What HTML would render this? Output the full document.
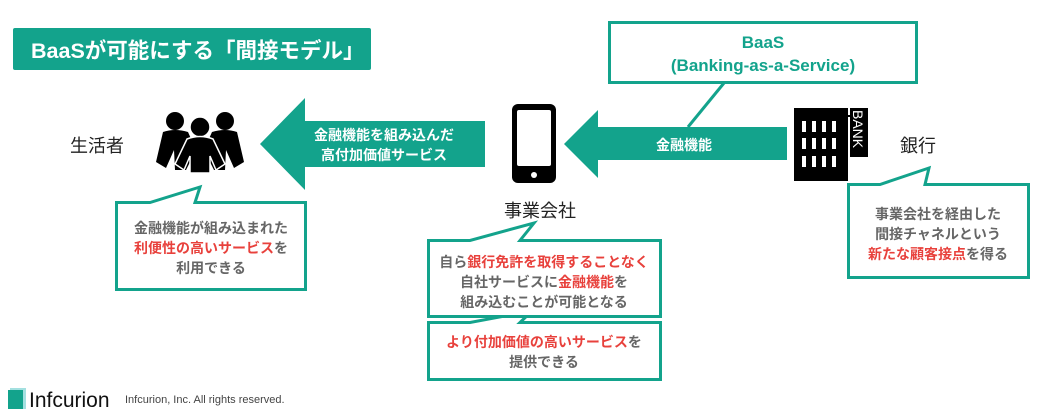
<!DOCTYPE html>
<html><head><meta charset="utf-8"><style>
html,body{margin:0;padding:0;background:#fff;}
svg{display:block;}
text{font-family:"Liberation Sans","Noto Sans CJK JP",sans-serif;}
.w{fill:#fff;font-weight:bold;font-size:14px;}
.g{fill:#666;font-weight:bold;font-size:14px;}
.r{fill:#e8413c;}
.k{fill:#222;font-size:18px;}
</style></head><body>
<svg width="1039" height="414" viewBox="0 0 1039 414" xmlns="http://www.w3.org/2000/svg">
<!-- title -->
<rect x="13" y="28" width="358" height="42" rx="2" fill="#13a38c"/>
<text x="31" y="58" fill="#fff" font-weight="bold" font-size="21.5">BaaSが可能にする「間接モデル」</text>

<!-- BaaS box -->
<line x1="724" y1="83" x2="688" y2="127" stroke="#13a38c" stroke-width="3"/>
<rect x="609.5" y="22.5" width="307" height="60" fill="#fff" stroke="#13a38c" stroke-width="3"/>
<text x="763" y="48" text-anchor="middle" fill="#13a38c" font-weight="bold" font-size="17">BaaS</text>
<text x="763" y="71" text-anchor="middle" fill="#13a38c" font-weight="bold" font-size="17">(Banking-as-a-Service)</text>

<!-- left arrow -->
<polygon points="260,144 305,98 305,121 485,121 485,167 305,167 305,190" fill="#13a38c"/>
<text x="384" y="140" text-anchor="middle" class="w">金融機能を組み込んだ</text>
<text x="384" y="160" text-anchor="middle" class="w">高付加価値サービス</text>

<!-- right arrow -->
<polygon points="564,144 598,110 598,127 787,127 787,160 598,160 598,178" fill="#13a38c"/>
<text x="684" y="150" text-anchor="middle" class="w" font-size="16">金融機能</text>

<!-- people -->
<text x="70" y="152" class="k">生活者</text>
<g fill="#000">
<circle cx="175" cy="121" r="9"/><circle cx="225" cy="121" r="9"/>
<path d="M163,132 Q175,128 188,132 L196,150 L186,170 L175,170 L174,150 L166,168 L156,162 Z"/>
<path d="M237,132 Q225,128 212,132 L204,150 L214,170 L225,170 L226,150 L234,168 L244,162 Z"/>
<circle cx="200" cy="127" r="10" stroke="#fff" stroke-width="1.5"/>
<path d="M187,139 Q200,134 213,139 L225,164 L216,170 L210,156 L210,173 L190,173 L190,156 L184,170 L175,164 Z" stroke="#fff" stroke-width="1.5"/>
</g>

<!-- phone -->
<rect x="512" y="104" width="44" height="79" rx="6" fill="#000"/>
<rect x="517" y="110" width="34" height="56" rx="2" fill="#fff"/>
<circle cx="534" cy="175" r="3" fill="#fff"/>
<text x="540" y="217" text-anchor="middle" class="k">事業会社</text>

<!-- bank -->
<rect x="794" y="108" width="54" height="73" fill="#000"/>
<g fill="#fff">
<rect x="802" y="121" width="4" height="11"/><rect x="812" y="121" width="4" height="11"/><rect x="822" y="121" width="4" height="11"/><rect x="832" y="121" width="4" height="11"/>
<rect x="802" y="138" width="4" height="11"/><rect x="812" y="138" width="4" height="11"/><rect x="822" y="138" width="4" height="11"/><rect x="832" y="138" width="4" height="11"/>
<rect x="802" y="156" width="4" height="11"/><rect x="812" y="156" width="4" height="11"/><rect x="822" y="156" width="4" height="11"/><rect x="832" y="156" width="4" height="11"/>
</g>
<rect x="850" y="108" width="18" height="49" fill="#000"/>
<line x1="848" y1="116" x2="850" y2="116" stroke="#000" stroke-width="2"/>
<text transform="translate(853,110) rotate(90)" fill="#fff" font-size="14">BANK</text>
<text x="900" y="152" class="k">銀行</text>

<!-- left callout -->
<path d="M116.5,202.5 L150,202.5 L200,187 L195,202.5 L305.5,202.5 L305.5,289.5 L116.5,289.5 Z" fill="#fff" stroke="#13a38c" stroke-width="3"/>
<text x="211" y="233" text-anchor="middle" class="g">金融機能が組み込まれた</text>
<text x="211" y="253" text-anchor="middle" class="g"><tspan class="r">利便性の高いサービス</tspan>を</text>
<text x="211" y="273" text-anchor="middle" class="g">利用できる</text>

<!-- center callout 2 -->
<path d="M428.5,322.5 L470,322.5 L532,311 L520,322.5 L660.5,322.5 L660.5,379.5 L428.5,379.5 Z" fill="#fff" stroke="#13a38c" stroke-width="3"/>
<text x="544" y="347" text-anchor="middle" class="g"><tspan class="r">より付加価値の高いサービス</tspan>を</text>
<text x="544" y="367" text-anchor="middle" class="g">提供できる</text>

<!-- center callout 1 -->
<path d="M428.5,240.5 L470,240.5 L534,223 L520,240.5 L660.5,240.5 L660.5,316.5 L428.5,316.5 Z" fill="#fff" stroke="#13a38c" stroke-width="3"/>
<text x="544" y="267" text-anchor="middle" class="g">自ら<tspan class="r">銀行免許を取得することなく</tspan></text>
<text x="544" y="287" text-anchor="middle" class="g">自社サービスに<tspan class="r">金融機能</tspan>を</text>
<text x="544" y="307" text-anchor="middle" class="g">組み込むことが可能となる</text>

<!-- right callout -->
<path d="M848.5,184.5 L880,184.5 L929,168 L925,184.5 L1028.5,184.5 L1028.5,277.5 L848.5,277.5 Z" fill="#fff" stroke="#13a38c" stroke-width="3"/>
<text x="938" y="219" text-anchor="middle" class="g">事業会社を経由した</text>
<text x="938" y="239" text-anchor="middle" class="g">間接チャネルという</text>
<text x="938" y="259" text-anchor="middle" class="g"><tspan class="r">新たな顧客接点</tspan>を得る</text>

<!-- footer -->
<rect x="10" y="388" width="16" height="21" fill="#6cc" opacity="0.6"/>
<rect x="8" y="390" width="15" height="19" fill="#13a38c"/>
<text x="29" y="407" fill="#111" font-size="21">Infcurion</text>
<text x="125" y="403" fill="#444" font-size="11">Infcurion, Inc.  All rights reserved.</text>
</svg>
</body></html>
